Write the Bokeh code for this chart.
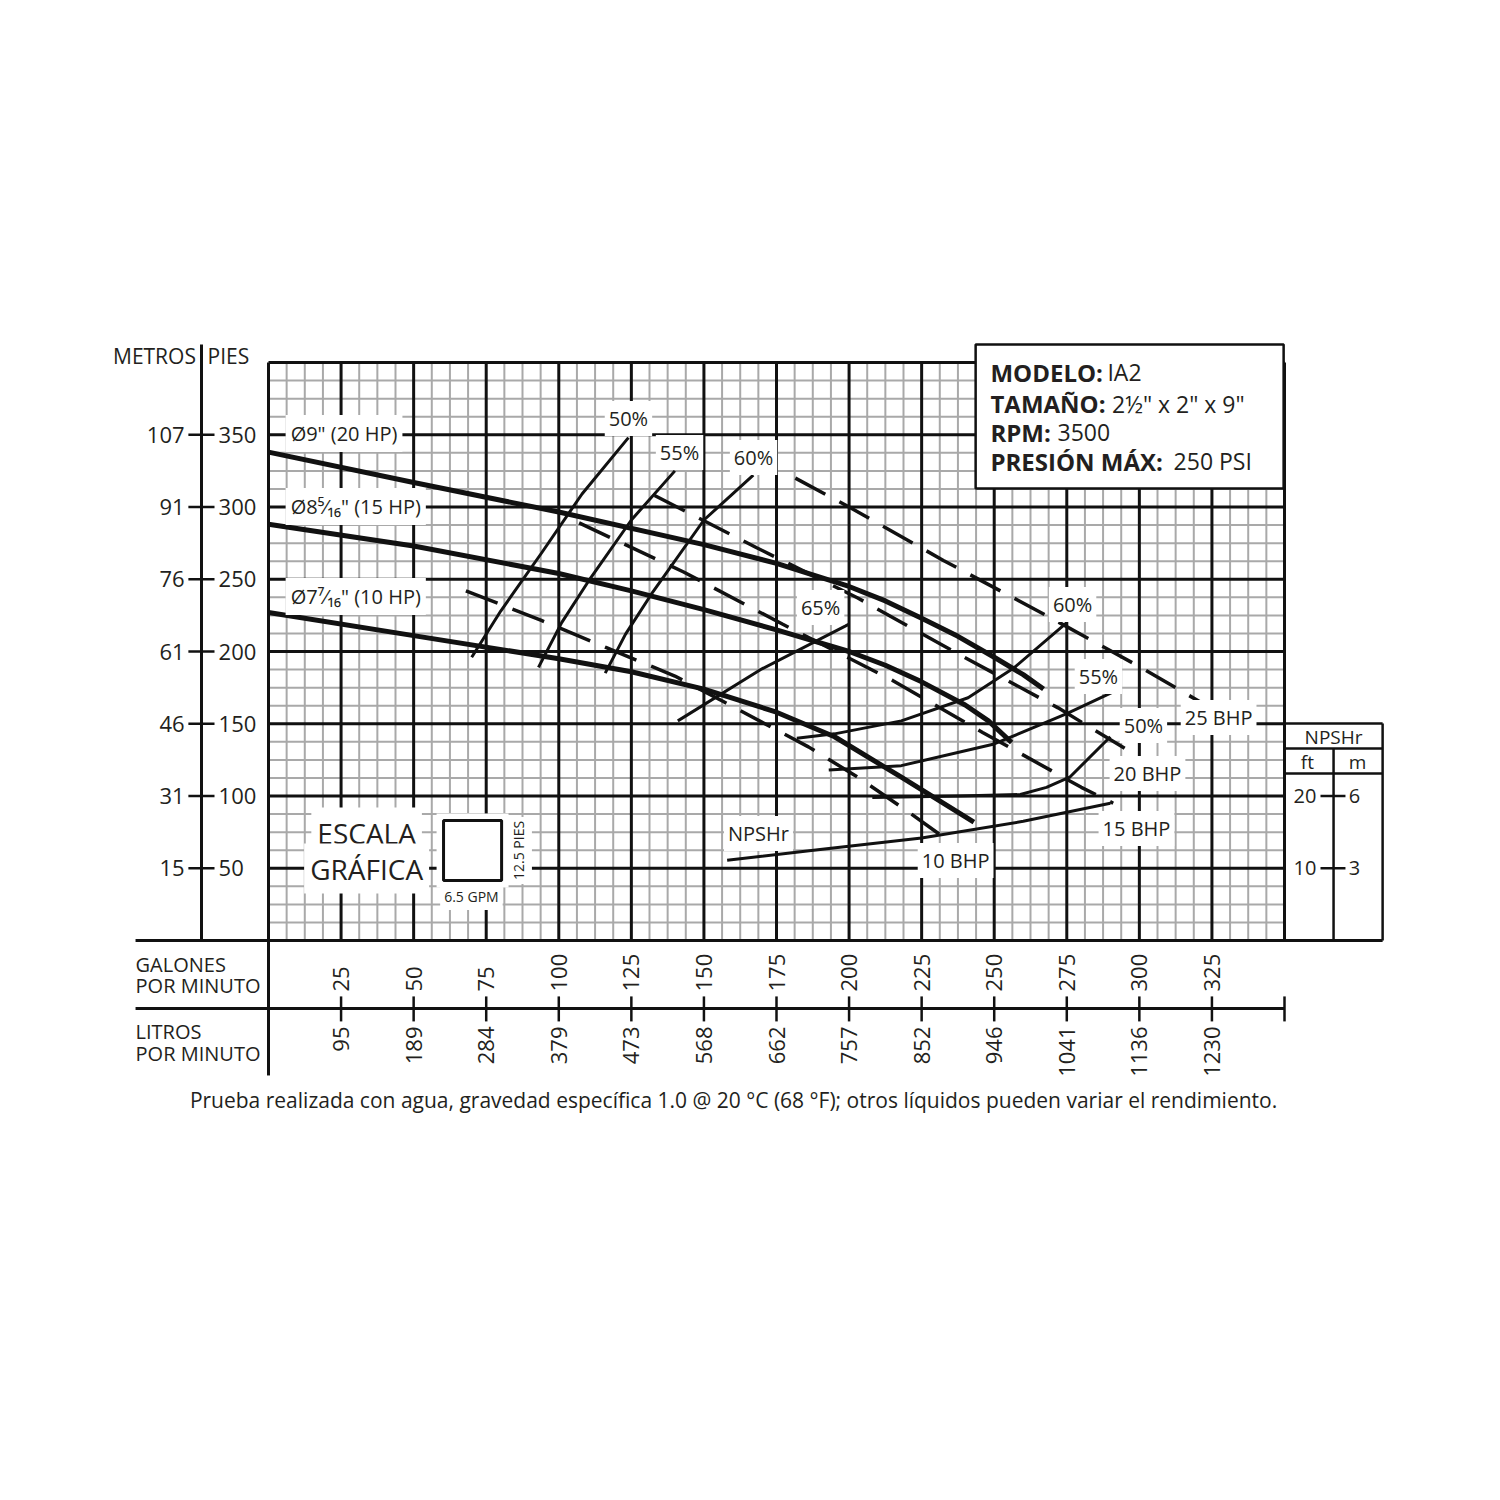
import numpy as np
from bokeh.plotting import figure
from bokeh.models import Range1d
from bokeh.embed import file_html
from bokeh.resources import INLINE
from bokeh.core.properties import value

FONT = "Open Sans"
INK = "#231f20"
LINE = "#111111"

# ---------------- data ----------------
gpm_ticks = [25, 50, 75, 100, 125, 150, 175, 200, 225, 250, 275, 300, 325]
lpm_labels = ["95", "189", "284", "379", "473", "568", "662", "757", "852",
              "946", "1041", "1136", "1230"]
head_ft_ticks = [50, 100, 150, 200, 250, 300, 350]
head_m_labels = ["15", "31", "46", "61", "76", "91", "107"]
npsh_ft_ticks = [10, 20]
npsh_m_labels = ["3", "6"]

# impeller head curves (GPM, ft)
d9_gpm = [0, 50, 100, 150, 175, 200, 212.5, 225, 237.5, 250, 260, 267]
d9_ft = [338, 317, 296.5, 274, 261, 245, 235, 223, 210.5, 196, 184, 174]
d8_gpm = [0, 50, 100, 125, 150, 175, 200, 212.5, 225, 240, 248, 256]
d8_ft = [288, 273, 254, 242, 229, 215, 200, 190.5, 179, 163, 152, 137]
d7_gpm = [0, 50, 100, 125, 150, 175, 195, 218, 243]
d7_ft = [227, 211, 195, 186, 174, 158, 141, 113, 82]

# efficiency curves
eff50L_gpm = [70, 80, 94, 108, 124]
eff50L_ft = [196, 228, 268, 309, 348]
eff55L_gpm = [93, 101, 111, 125, 140]
eff55L_ft = [189, 220, 251, 291, 325]
eff60L_gpm = [116, 123, 132, 150, 167]
eff60L_ft = [185, 212, 240, 291, 322]
eff65_gpm = [141, 170, 200]
eff65_ft = [152, 188, 219]
eff60R_gpm = [182, 195, 218, 241, 257, 275]
eff60R_ft = [140, 143, 152, 168, 189, 220]
eff55R_gpm = [193, 218, 250, 275, 291]
eff55R_ft = [118, 121, 136, 157, 172]
eff50R_gpm = [208, 238, 259, 268, 276, 290]
eff50R_ft = [99, 100, 101, 106, 113, 141]

# brake horsepower lines
bhp25_gpm = [181.5, 200, 232.5, 267, 301.4, 321]
bhp25_ft = [320, 300, 263, 226, 188, 165]
bhp20_gpm = [133, 168, 203, 237, 272, 299]
bhp20_ft = [308, 272, 237, 199, 161, 128]
bhp15_gpm = [107, 143, 177, 215, 246, 280, 291]
bhp15_ft = [289, 255, 219, 180, 144, 106, 95]
bhp10_gpm = [68, 94, 116, 140, 157, 186, 203, 219, 231.5]
bhp10_ft = [242, 221.5, 203, 183, 165, 134, 113, 91, 73]

# NPSHr (ft of NPSH)
npshr_gpm = [158, 190, 225, 260, 290]
npshr_ft = [11.1, 12.6, 14.2, 16.5, 19.0]

curve_label_text = ["50%", "55%", "60%", "65%", "60%", "55%", "50%",
                    "25 BHP", "20 BHP", "15 BHP", "10 BHP", "NPSHr"]
impeller_label_text = ['Ø9" (20 HP)', 'Ø8⁵⁄₁₆" (15 HP)', 'Ø7⁷⁄₁₆" (10 HP)']

# ---------------- layout (positions in chart units: GPM / ft) ----------------
curve_label_x = [124.0, 141.6, 167.1, 190.2, 277.0, 285.9, 301.4, 327.3, 302.8, 299.0, 236.7, 168.8]
curve_label_y = [361.2, 337.7, 334.3, 230.4, 232.5, 182.7, 148.8, 154.3, 115.6, 77.5, 55.4, 74.0]
impeller_label_x = [5.9, 5.9, 5.9]
impeller_label_y = [350.9, 300.3, 238.1]

W = H = 1484
PXG = 1016 / 350.0   # px per GPM
PXF = 578 / 400.0    # px per ft
x0 = (0 - 268) / PXG
x1 = x0 + W / PXG
y1 = (940 - 0) / PXF
y0 = y1 - H / PXF

p = figure(width=W, height=H, x_range=Range1d(x0, x1), y_range=Range1d(y0, y1),
           output_backend="svg", toolbar_location=None,
           x_axis_location=None, y_axis_location=None, min_border=0)
p.outline_line_color = None
p.background_fill_color = "white"
p.border_fill_color = "white"
p.grid.grid_line_color = None
p.extra_y_ranges = {"npsh": Range1d(y0 / 5.0, y1 / 5.0)}


def txt(x, y, s, size, align="center", baseline="middle", bold=False, angle=0,
        bg=None, pad=0, yr="default"):
    kw = dict(x=x, y=y, text=s, text_font=value(FONT), text_font_size=f"{size}px",
              text_align=align, text_baseline=baseline, text_color=INK, angle=angle,
              text_font_style="bold" if bold else "normal", y_range_name=yr)
    if bg:
        kw.update(background_fill_color=bg, padding=pad)
    p.text(**kw)


# ---------------- grid ----------------
minor_x = [g for g in np.arange(6.25, 350, 6.25) if abs(g % 25) > 1e-6]
minor_y = [f for f in np.arange(12.5, 400, 12.5) if abs(f % 50) > 1e-6]
p.segment(x0=minor_x, y0=0, x1=minor_x, y1=400, line_color="#a9a9a9", line_width=2)
p.segment(x0=0, y0=minor_y, x1=350, y1=minor_y, line_color="#a9a9a9", line_width=2)
major_x = list(range(25, 350, 25))
major_y = list(range(50, 400, 50))
p.segment(x0=major_x, y0=0, x1=major_x, y1=400, line_color=LINE, line_width=3)
p.segment(x0=0, y0=major_y, x1=350, y1=major_y, line_color=LINE, line_width=3)
# frame
p.segment(x0=[0, 350, 0], y0=[0, 0, 400], x1=[0, 350, 350], y1=[400, 400, 400],
          line_color=LINE, line_width=3)

# ---------------- curves ----------------
for gx, fy in [(d9_gpm, d9_ft), (d8_gpm, d8_ft), (d7_gpm, d7_ft)]:
    p.line(gx, fy, line_color=LINE, line_width=5, line_join="round")
for gx, fy in [(eff50L_gpm, eff50L_ft), (eff55L_gpm, eff55L_ft), (eff60L_gpm, eff60L_ft),
               (eff65_gpm, eff65_ft), (eff60R_gpm, eff60R_ft), (eff55R_gpm, eff55R_ft),
               (eff50R_gpm, eff50R_ft)]:
    p.line(gx, fy, line_color=LINE, line_width=3, line_join="round")
for gx, fy in [(bhp25_gpm, bhp25_ft), (bhp20_gpm, bhp20_ft), (bhp15_gpm, bhp15_ft),
               (bhp10_gpm, bhp10_ft)]:
    p.line(gx, fy, line_color=LINE, line_width=3.5, line_dash="34 16")
p.line(npshr_gpm, npshr_ft, line_color=LINE, line_width=3, y_range_name="npsh")

# ---------------- labels on curves ----------------
txt(curve_label_x, curve_label_y, curve_label_text, 20, bg="white", pad=4)
txt(impeller_label_x, impeller_label_y, impeller_label_text, 20, align="left", bg="white", pad=5)

# ---------------- escala grafica ----------------
txt([33.8], [74.7], ["ESCALA"], 28, bg="white", pad=6)
txt([33.8], [49.8], ["GRÁFICA"], 28, bg="white", pad=6)
p.quad(left=[57.9], right=[82.7], bottom=[36.6], top=[87.9], fill_color="white", line_color=None)
p.quad(left=[60.3], right=[80.3], bottom=[41.5], top=[83.0], fill_color="white",
       line_color=LINE, line_width=3)
txt([69.9], [30.4], ["6.5 GPM"], 14, bg="white", pad=4)
txt([86.1], [62.3], ["12.5 PIES"], 14, angle=np.pi / 2, bg="white", pad=4)

# ---------------- head axis (left) ----------------
p.segment(x0=[-23.08], y0=[0], x1=[-23.08], y1=[412.5], line_color=LINE, line_width=3)
p.segment(x0=-27.6, y0=head_ft_ticks, x1=-18.6, y1=head_ft_ticks, line_color=LINE, line_width=2.5)
txt([-17.2] * len(head_ft_ticks), head_ft_ticks, [str(v) for v in head_ft_ticks], 22, align="left")
txt([-28.9] * len(head_ft_ticks), head_ft_ticks, head_m_labels, 22, align="right")
txt([-25.0], [404.8], ["METROS"], 21, align="right")
txt([-21.0], [404.8], ["PIES"], 21, align="left")

# ---------------- flow axes (bottom) ----------------
p.segment(x0=[-45.8, -45.8, 0], y0=[0, -47.06, 0], x1=[383.8, 350, 0], y1=[0, -47.06, -93.4],
          line_color=LINE, line_width=3)
p.segment(x0=gpm_ticks + [350], y0=-38.7, x1=gpm_ticks + [350], y1=-56.0,
          line_color=LINE, line_width=2.5)
txt(gpm_ticks, [-35.3] * len(gpm_ticks), [str(v) for v in gpm_ticks], 22,
    align="left", angle=np.pi / 2)
txt(gpm_ticks, [-59.5] * len(gpm_ticks), lpm_labels, 22, align="right", angle=np.pi / 2)
txt([-45.8, -45.8], [-16.6, -31.1], ["GALONES", "POR MINUTO"], 20, align="left")
txt([-45.8, -45.8], [-63.0, -78.2], ["LITROS", "POR MINUTO"], 20, align="left")
txt([160.2], [-110.7], ["Prueba realizada con agua, gravedad específica 1.0 @ 20 °C (68 °F); "
                        "otros líquidos pueden variar el rendimiento."], 21)

# ---------------- NPSHr scale box (right) ----------------
p.segment(x0=[350, 350, 350, 383.8, 366.9], y0=[150.2, 132.9, 115.6, 0, 0],
          x1=[383.8, 383.8, 383.8, 383.8, 366.9], y1=[150.2, 132.9, 115.6, 150.2, 132.9],
          line_color=LINE, line_width=2.5)
p.segment(x0=362.4, y0=npsh_ft_ticks, x1=371.0, y1=npsh_ft_ticks, line_color=LINE,
          line_width=2.5, y_range_name="npsh")
txt([361.0] * 2, npsh_ft_ticks, [str(v) for v in npsh_ft_ticks], 20, align="right", yr="npsh")
txt([372.1] * 2, npsh_ft_ticks, npsh_m_labels, 20, align="left", yr="npsh")
txt([366.9], [140.5], ["NPSHr"], 19)
txt([357.9, 375.2], [123.2, 123.2], ["ft", "m"], 19)

# ---------------- info box ----------------
p.quad(left=[243.6], right=[349.7], bottom=[312.8], top=[412.5], fill_color="white",
       line_color=LINE, line_width=2.5)
info_keys = ["MODELO:", "TAMAÑO:", "RPM:", "PRESIÓN MÁX:"]
info_vals = ["IA2", '2½" x 2" x 9"', "3500", "250 PSI"]
info_y = [393.1, 371.6, 351.6, 331.5]
info_val_x = [289.0, 290.6, 271.8, 311.8]
txt([248.7] * 4, info_y, info_keys, 24, align="left", bold=True)
txt(info_val_x, info_y, info_vals, 23, align="left")

open("out.html", "w").write(file_html(p, INLINE))
